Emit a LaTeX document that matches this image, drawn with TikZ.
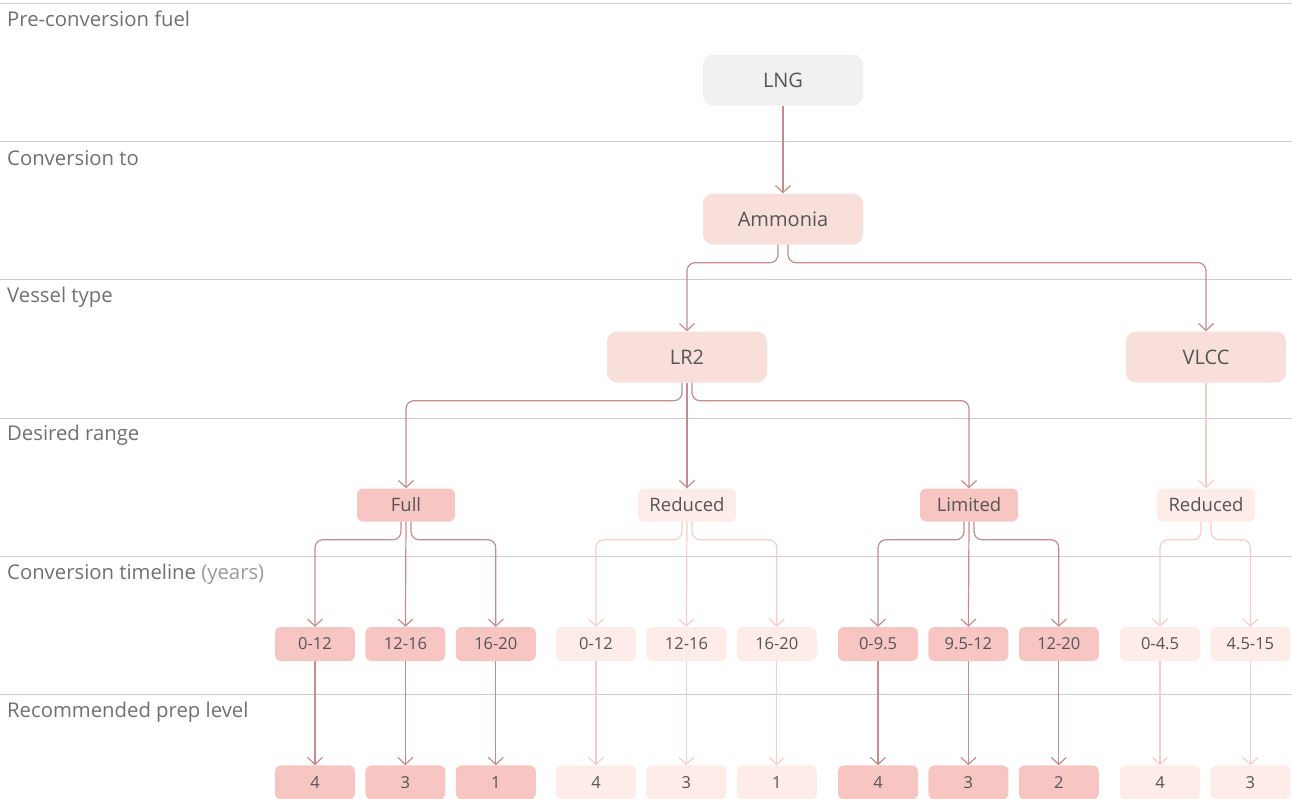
\documentclass[tikz,border=0pt]{standalone}
\usepackage{fontspec}
\setmainfont{Open Sans}
\usepackage{tikz}
\usetikzlibrary{arrows.meta,positioning}
\definecolor{clRule}{HTML}{CCCCCC}
\definecolor{clLabel}{HTML}{707070}
\definecolor{clNote}{HTML}{9A9A9A}
\definecolor{clText}{HTML}{555555}
\definecolor{clFuel}{HTML}{F1F1F1}
\definecolor{clPick}{HTML}{F9DFDA}
\definecolor{clStrong}{HTML}{F8C6C2}
\definecolor{clFaint}{HTML}{FDECE8}
\definecolor{clFlow}{HTML}{C98A8C}
\definecolor{clFaintFlow}{HTML}{F8CDC8}
\tikzset{
  box/.style={rectangle, rounded corners=10pt, inner sep=0pt, minimum width=160pt,
              minimum height=51pt, text=clText, font=\fontsize{20}{24}\selectfont},
  fuel/.style={box, fill=clFuel},
  pick/.style={box, fill=clPick},
  tag/.style={rectangle, rounded corners=6pt, inner sep=0pt, minimum width=98pt,
              minimum height=33pt, text=clText, font=\fontsize{18.5}{22}\selectfont},
  cell/.style={tag, minimum width=80pt, minimum height=34pt, font=\fontsize{16.5}{20}\selectfont},
  strong/.style={fill=clStrong},
  faint/.style={fill=clFaint},
  flow/.style={-{Straight Barb[length=7pt,width=15pt]}, line width=1.2pt, draw=clFlow,
               rounded corners=8pt},
  faintflow/.style={flow, draw=clFaintFlow},
  rule/.style={draw=clRule, line width=1pt},
  rowlabel/.style={anchor=west, text=clLabel, inner sep=0pt, font=\fontsize{20.3}{24}\selectfont},
}
\begin{document}
\begin{tikzpicture}[x=1pt, y=-1pt, node distance=104pt and 10pt]
  \useasboundingbox (0,0) rectangle (1292,798);
  % rows
  \draw[rule] (0,3) -- (1292,3);
  \draw[rule] (0,141) -- (1292,141);
  \draw[rule] (0,279) -- (1292,279);
  \draw[rule] (0,418) -- (1292,418);
  \draw[rule] (0,556) -- (1292,556);
  \draw[rule] (0,694) -- (1292,694);
  \node[rowlabel] (rFuel) at (7,19) {Pre-conversion fuel};
  \node[rowlabel] (rTo) at (7,158) {Conversion to};
  \node[rowlabel] (rType) at (7,297) {Vessel type};
  \node[rowlabel] (rRange) at (7,435) {Desired range};
  \node[rowlabel] (rTime) at (7,574) {Conversion timeline \textcolor{clNote}{(years)}};
  \node[rowlabel] (rPrep) at (7,712) {Recommended prep level};

  % fuel, target, vessel
  \node[fuel] (lng) at (783,80) {LNG};
  \node[pick] (amm) at (783,219) {Ammonia};
  \node[pick] (lr2) at (687,357) {LR2};
  \node[pick] (vlcc) at (1206,357) {VLCC};

  % range
  \node[tag, strong] (full) at (406,505) {Full};
  \node[tag, faint] (lrRed) at (687,505) {Reduced};
  \node[tag, strong] (lim) at (969,505) {Limited};
  \node[tag, faint] (vlRed) at (1206,505) {Reduced};

  % timeline
  \node[cell, strong] (fA) at (315,644) {0-12};
  \node[cell, strong, right=of fA] (fB) {12-16};
  \node[cell, strong, right=of fB] (fC) {16-20};
  \node[cell, faint] (rA) at (596,644) {0-12};
  \node[cell, faint, right=of rA] (rB) {12-16};
  \node[cell, faint, right=of rB] (rC) {16-20};
  \node[cell, strong] (lA) at (878,644) {0-9.5};
  \node[cell, strong, right=of lA] (lB) {9.5-12};
  \node[cell, strong, right=of lB] (lC) {12-20};
  \node[cell, faint] (vA) at (1160,644) {0-4.5};
  \node[cell, faint, right=of vA] (vB) {4.5-15};

  % prep level
  \node[cell, strong, below=of fA] (fAp) {4};
  \node[cell, strong, below=of fB] (fBp) {3};
  \node[cell, strong, below=of fC] (fCp) {1};
  \node[cell, faint, below=of rA] (rAp) {4};
  \node[cell, faint, below=of rB] (rBp) {3};
  \node[cell, faint, below=of rC] (rCp) {1};
  \node[cell, strong, below=of lA] (lAp) {4};
  \node[cell, strong, below=of lB] (lBp) {3};
  \node[cell, strong, below=of lC] (lCp) {2};
  \node[cell, faint, below=of vA] (vAp) {4};
  \node[cell, faint, below=of vB] (vBp) {3};

  % branches
  \draw[flow] (lng) -- (amm);
  \draw[flow] ([xshift=-5pt]amm.south) -- ++(0,18) -| (lr2.north);
  \draw[flow] ([xshift=5pt]amm.south) -- ++(0,18) -| (vlcc.north);
  \draw[flow] ([xshift=-5pt]lr2.south) -- ++(0,18) -| (full.north);
  \draw[flow] (lr2) -- (lrRed);
  \draw[flow] ([xshift=5pt]lr2.south) -- ++(0,18) -| (lim.north);
  \draw[faintflow] (vlcc) -- (vlRed);

  \draw[flow] ([xshift=-5pt]full.south) -- ++(0,18) -| (fA.north);
  \draw[flow] (full.south) -- (fB.north);
  \draw[flow] ([xshift=5pt]full.south) -- ++(0,18) -| (fC.north);
  \draw[faintflow] ([xshift=-5pt]lrRed.south) -- ++(0,18) -| (rA.north);
  \draw[faintflow] (lrRed.south) -- (rB.north);
  \draw[faintflow] ([xshift=5pt]lrRed.south) -- ++(0,18) -| (rC.north);
  \draw[flow] ([xshift=-5pt]lim.south) -- ++(0,18) -| (lA.north);
  \draw[flow] (lim.south) -- (lB.north);
  \draw[flow] ([xshift=5pt]lim.south) -- ++(0,18) -| (lC.north);
  \draw[faintflow] ([xshift=-5pt]vlRed.south) -- ++(0,18) -| (vA.north);
  \draw[faintflow] ([xshift=5pt]vlRed.south) -- ++(0,18) -| (vB.north);

  \draw[flow] (fA) -- (fAp);
  \draw[flow] (fB) -- (fBp);
  \draw[flow] (fC) -- (fCp);
  \draw[faintflow] (rA) -- (rAp);
  \draw[faintflow] (rB) -- (rBp);
  \draw[faintflow] (rC) -- (rCp);
  \draw[flow] (lA) -- (lAp);
  \draw[flow] (lB) -- (lBp);
  \draw[flow] (lC) -- (lCp);
  \draw[faintflow] (vA) -- (vAp);
  \draw[faintflow] (vB) -- (vBp);
\end{tikzpicture}
\end{document}
